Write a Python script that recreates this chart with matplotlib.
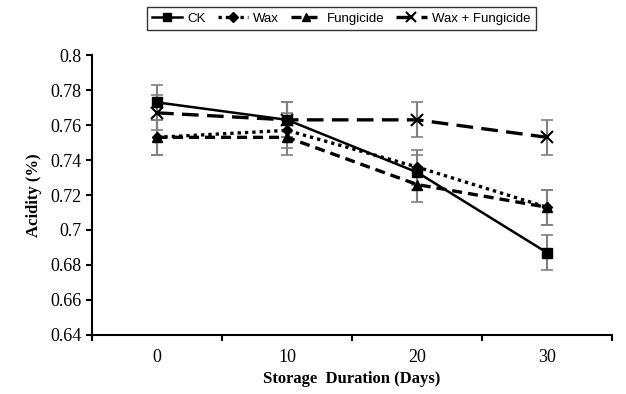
import matplotlib.pyplot as plt

# Data
days = ['0', '10', '20', '30']
ck = [0.773, 0.763, 0.733, 0.687]
wax = [0.753, 0.757, 0.736, 0.713]
fungicide = [0.753, 0.753, 0.726, 0.713]
wax_fungicide = [0.767, 0.763, 0.763, 0.753]
err = [0.01, 0.01, 0.01, 0.01]

series = [
    ('CK', ck, dict(linestyle='-', marker='s', markersize=7, linewidth=1.8)),
    ('Wax', wax, dict(linestyle=(0, (1, 1.2)), marker='D', markersize=5.5, linewidth=2.4)),
    ('Fungicide', fungicide, dict(linestyle=(0, (3, 1.8)), marker='^', markersize=7, linewidth=2.4)),
    ('Wax + Fungicide', wax_fungicide, dict(linestyle=(0, (5, 2.5)), marker='x', markersize=8,
                                            markeredgewidth=1.5, linewidth=2.4)),
]

fig = plt.figure(figsize=(6.26, 3.94), dpi=100)
ax = fig.add_axes([0.147, 0.150, 0.831, 0.710])

x = list(range(len(days)))
for name, vals, style in series:
    ax.errorbar(x, vals, yerr=err, fmt='none', ecolor='0.5', elinewidth=1.5,
                capsize=4, capthick=1.2, zorder=1)
    ax.plot(x, vals, color='black', label=name, zorder=3, **style)

ax.set_xlim(-0.5, 3.5)
ax.set_ylim(0.64, 0.8)
ax.set_yticks([0.64, 0.66, 0.68, 0.70, 0.72, 0.74, 0.76, 0.78, 0.80])
ax.set_yticklabels(['0.64', '0.66', '0.68', '0.7', '0.72', '0.74', '0.76', '0.78', '0.8'])
ax.set_xticks(x)
ax.set_xticklabels(days)
ax.set_xticks([-0.5, 0.5, 1.5, 2.5, 3.5], minor=True)
ax.tick_params(axis='x', which='major', length=0, pad=10)
ax.tick_params(axis='x', which='minor', length=4, width=1.5, direction='out')
ax.tick_params(axis='y', length=4, width=1.5, direction='out')
for lab in ax.get_xticklabels() + ax.get_yticklabels():
    lab.set_fontfamily('Liberation Serif')
    lab.set_fontsize(13)

ax.spines['top'].set_visible(False)
ax.spines['right'].set_visible(False)
ax.spines['left'].set_linewidth(1.5)
ax.spines['bottom'].set_linewidth(1.5)

ax.set_xlabel('Storage  Duration (Days)', fontfamily='Liberation Serif',
              fontweight='bold', fontsize=12, labelpad=4)
ax.set_ylabel('Acidity (%)', fontfamily='Liberation Serif',
              fontweight='bold', fontsize=12, labelpad=6)

leg = fig.legend(loc='center', bbox_to_anchor=(0.545, 0.953), ncol=4,
                 prop={'family': 'Liberation Sans', 'size': 9.5},
                 frameon=True, fancybox=False, edgecolor='black',
                 handlelength=2.3, handletextpad=0.4, columnspacing=0.9,
                 borderpad=0.4, markerscale=0.85)
leg.get_frame().set_linewidth(1.0)

fig.savefig('out.png', dpi=100)
